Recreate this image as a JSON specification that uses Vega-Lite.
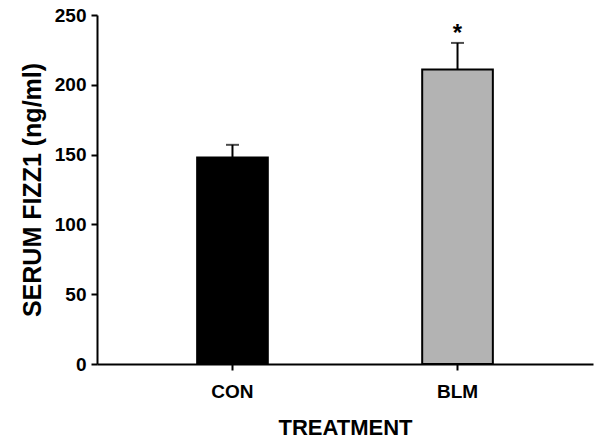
{
  "$schema": "https://vega.github.io/schema/vega-lite/v6.json",
  "autosize": "none",
  "width": 496,
  "height": 349,
  "padding": {"left": 97, "top": 15, "right": 5, "bottom": 78},
  "background": "white",
  "config": {
    "view": {"stroke": null},
    "font": "Liberation Sans",
    "axis": {
      "domainColor": "black",
      "domainWidth": 2,
      "tickColor": "black",
      "tickWidth": 2,
      "tickSize": 6,
      "grid": false,
      "labelFont": "Liberation Sans",
      "labelFontWeight": "bold",
      "labelFontSize": 19,
      "labelColor": "black",
      "titleFont": "Liberation Sans",
      "titleFontWeight": "bold",
      "titleFontSize": 22,
      "titleColor": "black"
    }
  },
  "data": {
    "values": [
      {"treatment": "CON", "value": 148, "upper": 157, "sig": ""},
      {"treatment": "BLM", "value": 211, "upper": 230, "sig": "*"}
    ]
  },
  "encoding": {
    "x": {
      "field": "treatment",
      "type": "nominal",
      "sort": ["CON", "BLM"],
      "scale": {"paddingInner": 0.686, "paddingOuter": 0.445},
      "axis": {"title": "TREATMENT", "labelAngle": 0, "labelPadding": 12, "titlePadding": 16}
    }
  },
  "layer": [
    {
      "mark": {"type": "rule", "strokeWidth": 2, "color": "black"},
      "encoding": {
        "y": {"field": "value", "type": "quantitative"},
        "y2": {"field": "upper"}
      }
    },
    {
      "mark": {"type": "tick", "size": 13, "thickness": 2, "color": "black", "orient": "horizontal"},
      "encoding": {
        "y": {"field": "upper", "type": "quantitative"}
      }
    },
    {
      "mark": {"type": "bar", "stroke": "black", "strokeWidth": 2},
      "encoding": {
        "y": {
          "field": "value",
          "type": "quantitative",
          "scale": {"domain": [0, 250], "nice": false},
          "axis": {"title": "SERUM FIZZ1 (ng/ml)", "titleFontSize": 25, "values": [0, 50, 100, 150, 200, 250], "labelPadding": 5, "titlePadding": 9}
        },
        "fill": {
          "field": "treatment",
          "type": "nominal",
          "scale": {"domain": ["CON", "BLM"], "range": ["#000000", "#b3b3b3"]},
          "legend": null
        }
      }
    },
    {
      "mark": {"type": "text", "fontSize": 24, "fontWeight": "bold", "baseline": "alphabetic", "dy": -2, "color": "black"},
      "encoding": {
        "y": {"field": "upper", "type": "quantitative"},
        "text": {"field": "sig"}
      }
    }
  ]
}
